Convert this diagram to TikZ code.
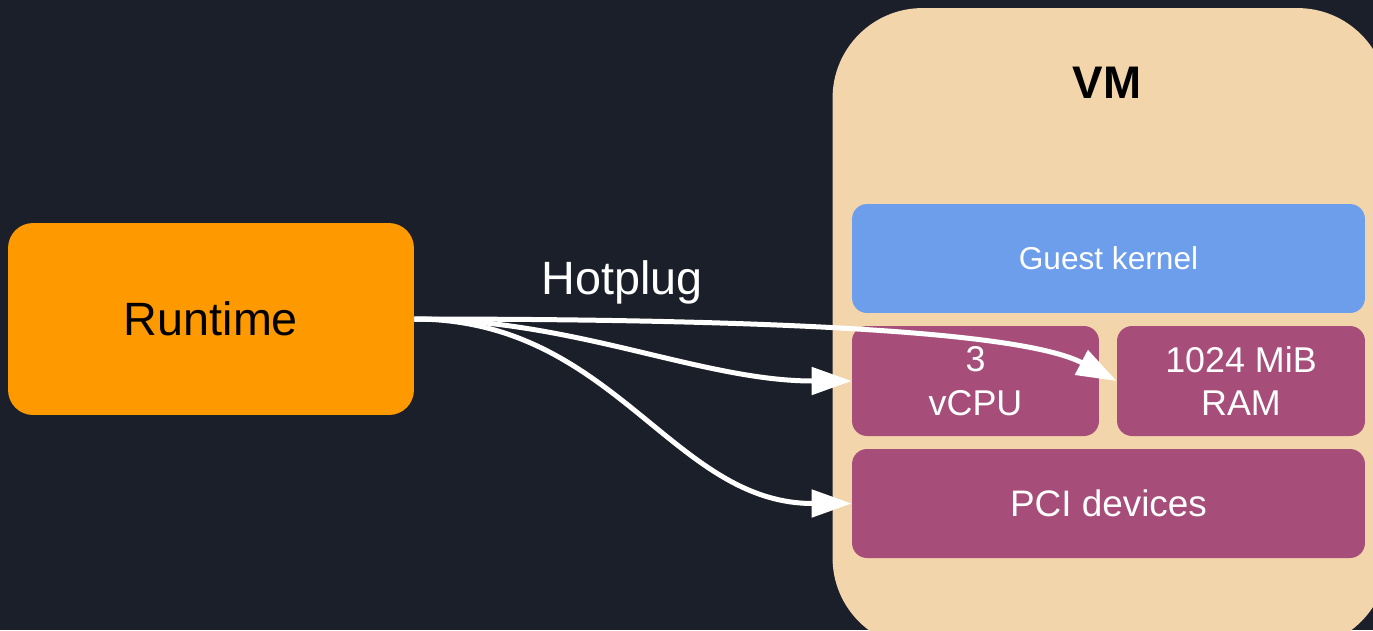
\documentclass[tikz,border=0pt]{standalone}
\usepackage{fontspec}
\setmainfont{Liberation Sans}
\usetikzlibrary{arrows.meta}
\definecolor{bg}{HTML}{1B1F2A}
\definecolor{rtorange}{HTML}{FF9900}
\definecolor{vmtan}{HTML}{F2D5AB}
\definecolor{kblue}{HTML}{6D9EEB}
\definecolor{mag}{HTML}{A64D79}
\tikzset{
  box/.style={rectangle, rounded corners=0.3cm, inner sep=0pt, text=white, align=center},
  conn/.style={draw=white, line width=0.1cm, -{Triangle[length=0.8cm,width=0.54cm]}},
}
\begin{document}
\begin{tikzpicture}[x=0.02cm,y=-0.02cm]
\useasboundingbox (0,0) rectangle (1373,630);
\clip (0,0) rectangle (1373,630);
\fill[bg] (0,0) rectangle (1373,630);
% VM container
\node[rectangle, rounded corners=1.8cm, fill=vmtan, minimum width=11.1cm, minimum height=12.8cm, inner sep=0pt] (vm) at (1110,328) {};
\node[font=\fontsize{26}{30}\selectfont\bfseries, text=black] (vmlabel) at (1107,83) {VM};
% inner boxes
\node[box, fill=kblue, minimum width=10.26cm, minimum height=2.18cm, font=\fontsize{18}{22}\selectfont] (gk) at (1108.5,258.5) {Guest kernel};
\node[box, fill=mag, minimum width=4.94cm, minimum height=2.2cm, font=\fontsize{20.4}{25}\selectfont] (cpu) at (975.5,381) {3\\vCPU};
\node[box, fill=mag, minimum width=4.96cm, minimum height=2.2cm, font=\fontsize{20.4}{25}\selectfont] (ram) at (1241,381) {1024 MiB\\RAM};
\node[box, fill=mag, minimum width=10.26cm, minimum height=2.18cm, font=\fontsize{21}{25}\selectfont] (pci) at (1108.5,503.5) {PCI devices};
% runtime
\node[rectangle, rounded corners=0.5cm, fill=rtorange, minimum width=8.12cm, minimum height=3.84cm, inner sep=0pt, font=\fontsize{26.6}{32}\selectfont, text=black] (rt) at (211,319) {Runtime};
\node[font=\fontsize{26.6}{32}\selectfont, text=white] (hot) at (622,282) {Hotplug};
% connectors
\draw[conn] (rt.east) .. controls +(336,0) and +(-97,-51) .. (ram.west);
\draw[conn] (rt.east) .. controls +(160,0) and +(-150,0) .. (cpu.west);
\draw[conn] (rt.east) .. controls +(200,0) and +(-180,0) .. (pci.west);
\end{tikzpicture}
\end{document}
